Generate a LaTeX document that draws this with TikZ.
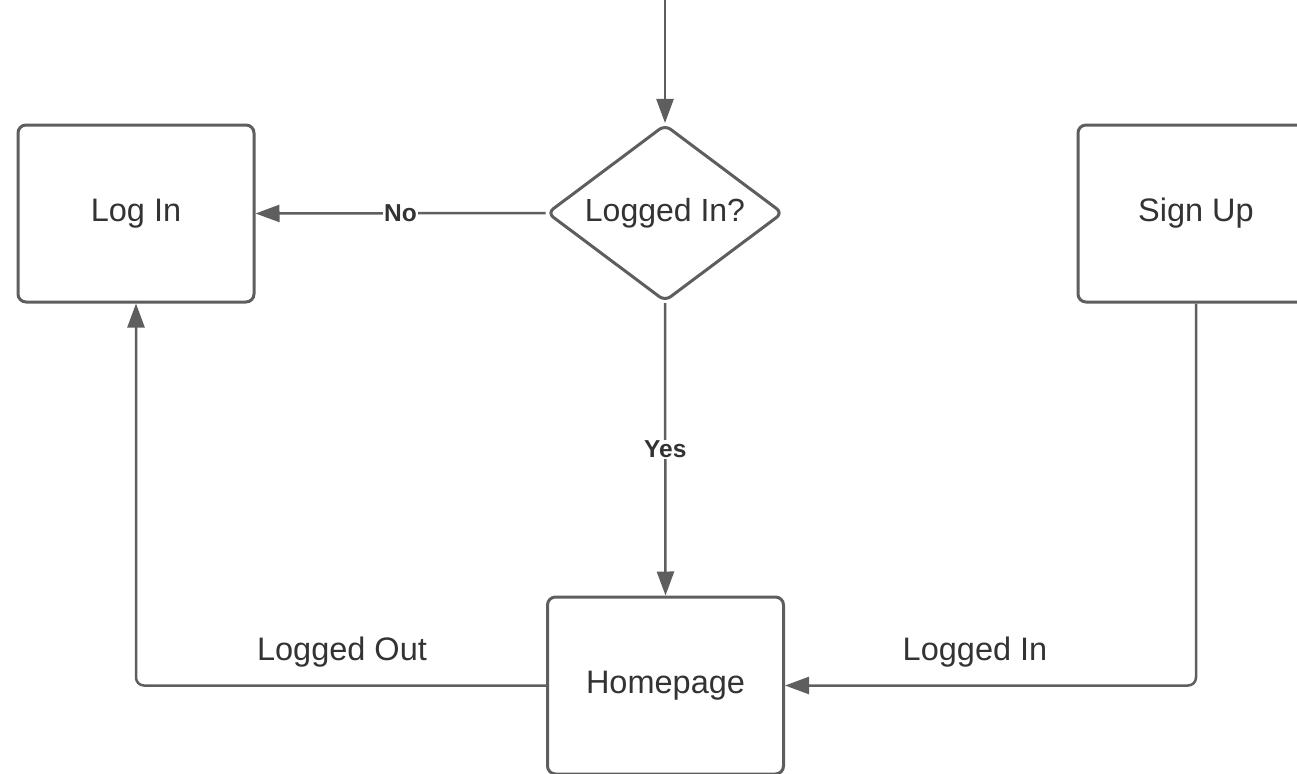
\documentclass[tikz,border=0pt]{standalone}
\usepackage{fontspec}
\setmainfont{Liberation Sans}
\usetikzlibrary{arrows.meta,shapes.geometric}
\definecolor{edge}{HTML}{5E5E5E}
\definecolor{ink}{HTML}{333333}
\begin{document}
\begin{tikzpicture}[x=1pt,y=-1pt,
  box/.style={draw=edge,line width=3pt,rounded corners=8pt,fill=white,
    minimum width=236pt,minimum height=177pt,inner sep=0pt,text=ink,
    font=\fontsize{32.5}{38}\selectfont},
  decision/.style={diamond,draw=edge,line width=3pt,rounded corners=7pt,fill=white,
    minimum width=236pt,minimum height=177pt,aspect=1.34,inner sep=0pt,text=ink,
    font=\fontsize{32}{38}\selectfont},
  conn/.style={draw=edge,line width=2.5pt,-{Triangle[length=24pt,width=17pt]}},
  lbl/.style={text=ink,font=\fontsize{32.5}{38}\selectfont,inner sep=1pt},
  blbl/.style={text=ink,font=\bfseries\fontsize{24.5}{29}\selectfont,fill=white,inner sep=1pt}]
\path[use as bounding box] (0,0) rectangle (1297,773);
\clip (0,0) rectangle (1297,773);
\node[box] (login) at (136,213.5) {Log In};
\node[box] (signup) at (1196,213.5) {Sign Up};
\node[box] (home) at (665.5,685.5) {Homepage};
\node[decision] (dec) at (665,213) {Logged In?};
\coordinate (start) at (665,-5);
\draw[conn] (start) -- (dec.north);
\draw[conn] (dec.west) -- node[blbl] {No} (login.east);
\draw[conn] (dec.south) -- node[blbl] {Yes} (home.north);
\draw[conn,rounded corners=8pt] (home.west) -| (login.south);
\draw[conn,rounded corners=8pt] (signup.south) |- (home.east);
\node[lbl] (lout) at (342,652) {Logged Out};
\node[lbl] (lin) at (975,652) {Logged In};
\end{tikzpicture}
\end{document}
